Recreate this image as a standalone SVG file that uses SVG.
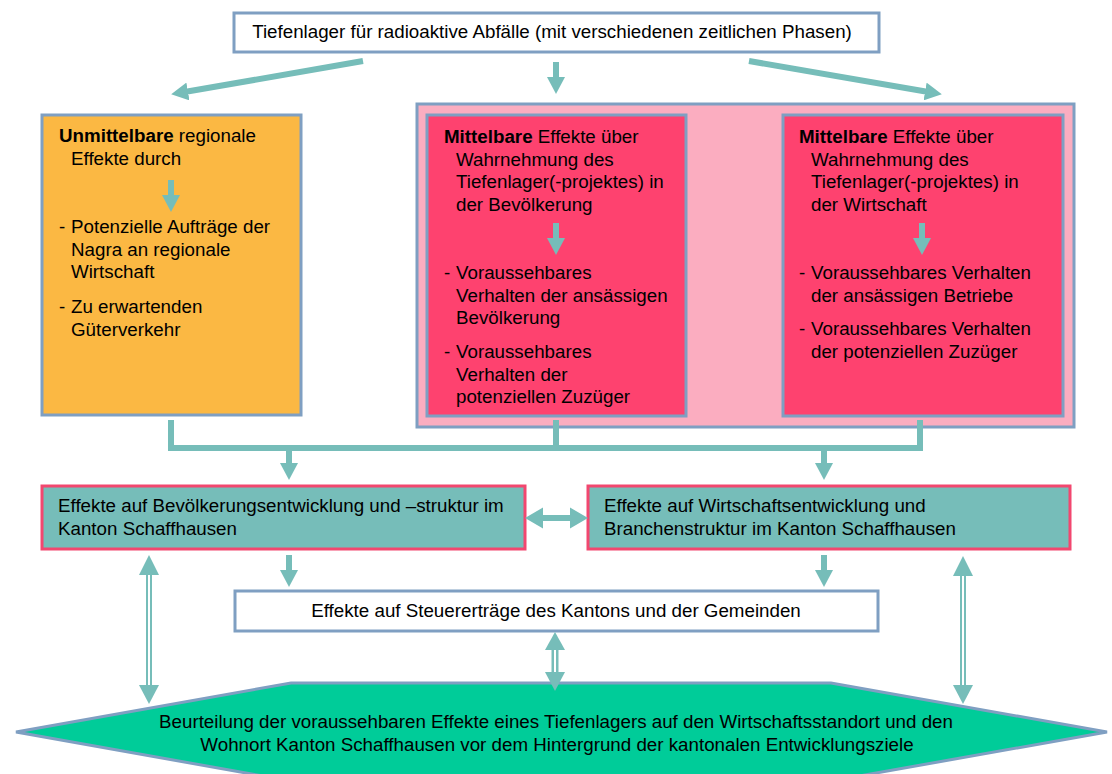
<svg xmlns="http://www.w3.org/2000/svg" width="1112" height="774" viewBox="0 0 1112 774">
<defs>
<style>
text{font-family:"Liberation Sans",Arial,sans-serif;font-size:18.75px;fill:#000}
.b{font-weight:bold}
.box{stroke:#7f9fc2;stroke-width:3}
.tbox{fill:#76bdb9;stroke:#f2476f;stroke-width:3}
.red{fill:#fe426f}
.con{stroke:#76bdb9;stroke-width:6;fill:none}
.head{fill:#76bdb9}
</style>
<marker id="ah" markerUnits="userSpaceOnUse" markerWidth="17" markerHeight="18" refX="5" refY="9" orient="auto">
<path d="M0,0 L17,9 L0,18 z" fill="#76bdb9"/>
</marker>
</defs>
<rect width="1112" height="774" fill="#fff"/>

<g id="top">
<rect class="box" x="234" y="13" width="645" height="39" fill="#fff"/>
<text x="552" y="38" text-anchor="middle">Tiefenlager für radioaktive Abfälle (mit verschiedenen zeitlichen Phasen)</text>
</g>

<g id="unmittelbar">
<rect class="box" x="42" y="115" width="259" height="300" fill="#fbb843"/>
<text x="59" y="142"><tspan class="b">Unmittelbare</tspan> regionale</text>
<text x="71" y="164.5">Effekte durch</text>
<line class="con" x1="171" y1="180" x2="171" y2="200" marker-end="url(#ah)"/>
<text x="59" y="233">-</text>
<text x="71" y="233">Potenzielle Aufträge der</text>
<text x="71" y="255.5">Nagra an regionale</text>
<text x="71" y="278">Wirtschaft</text>
<text x="59" y="313">-</text>
<text x="71" y="313">Zu erwartenden</text>
<text x="71" y="335.5">Güterverkehr</text>
</g>

<g id="mittelbar-container">
<rect class="box" x="417" y="104" width="657" height="323" fill="#fbadc0"/>
</g>

<g id="mittelbar-bevoelkerung">
<rect class="box red" x="427" y="115" width="259" height="301"/>
<text x="444" y="143"><tspan class="b">Mittelbare</tspan> Effekte über</text>
<text x="456" y="165.5">Wahrnehmung des</text>
<text x="456" y="188">Tiefenlager(-projektes) in</text>
<text x="456" y="210.5">der Bevölkerung</text>
<line class="con" x1="556" y1="223" x2="556" y2="243" marker-end="url(#ah)"/>
<text x="444" y="279">-</text>
<text x="456" y="279">Voraussehbares</text>
<text x="456" y="301.5">Verhalten der ansässigen</text>
<text x="456" y="324">Bevölkerung</text>
<text x="444" y="358">-</text>
<text x="456" y="358">Voraussehbares</text>
<text x="456" y="380.5">Verhalten der</text>
<text x="456" y="403">potenziellen Zuzüger</text>
</g>

<g id="mittelbar-wirtschaft">
<rect class="box red" x="783" y="115" width="280" height="301"/>
<text x="799" y="143"><tspan class="b">Mittelbare</tspan> Effekte über</text>
<text x="811" y="165.5">Wahrnehmung des</text>
<text x="811" y="188">Tiefenlager(-projektes) in</text>
<text x="811" y="210.5">der Wirtschaft</text>
<line class="con" x1="922" y1="223" x2="922" y2="243" marker-end="url(#ah)"/>
<text x="799" y="279">-</text>
<text x="811" y="279">Voraussehbares Verhalten</text>
<text x="811" y="301.5">der ansässigen Betriebe</text>
<text x="799" y="335">-</text>
<text x="811" y="335">Voraussehbares Verhalten</text>
<text x="811" y="357.5">der potenziellen Zuzüger</text>
</g>

<g id="bevoelkerung">
<rect class="tbox" x="42" y="486" width="483" height="63"/>
<text x="58" y="512">Effekte auf Bevölkerungsentwicklung und –struktur im</text>
<text x="58" y="535">Kanton Schaffhausen</text>
</g>

<g id="wirtschaft">
<rect class="tbox" x="588" y="486" width="482" height="63"/>
<text x="604" y="512">Effekte auf Wirtschaftsentwicklung und</text>
<text x="604" y="535">Branchenstruktur im Kanton Schaffhausen</text>
</g>

<g id="steuer">
<rect class="box" x="235" y="591" width="643" height="40" fill="#fff"/>
<text x="556" y="617" text-anchor="middle">Effekte auf Steuererträge des Kantons und der Gemeinden</text>
</g>

<g id="beurteilung">
<polygon points="16,732 291,683 831,683 1107,732 831,781 291,781" fill="#00cc99" stroke="#7f9fc2" stroke-width="3"/>
<text x="556" y="728" text-anchor="middle">Beurteilung der voraussehbaren Effekte eines Tiefenlagers auf den Wirtschaftsstandort und den</text>
<text x="557" y="751" text-anchor="middle">Wohnort Kanton Schaffhausen vor dem Hintergrund der kantonalen Entwicklungsziele</text>
</g>

<g id="connectors">
<line class="con" x1="363" y1="61" x2="183" y2="92.3" marker-end="url(#ah)"/>
<line class="con" x1="556" y1="62" x2="556" y2="82" marker-end="url(#ah)"/>
<line class="con" x1="749" y1="61" x2="930" y2="92.3" marker-end="url(#ah)"/>
<path class="con" d="M171,420 V448 H920 V420"/>
<line class="con" x1="556" y1="420" x2="556" y2="448"/>
<line class="con" x1="289" y1="448" x2="289" y2="468" marker-end="url(#ah)"/>
<line class="con" x1="824" y1="448" x2="824" y2="468" marker-end="url(#ah)"/>
<line class="con" x1="289" y1="555" x2="289" y2="575" marker-end="url(#ah)"/>
<line class="con" x1="824" y1="555" x2="824" y2="575" marker-end="url(#ah)"/>
<polygon class="head" points="525,518 543,507.5 543,515 570,515 570,507.5 588,518 570,528.5 570,521 543,521 543,528.5"/>
<line x1="149" y1="572" x2="149" y2="688" stroke="#76bdb9" stroke-width="6"/>
<line x1="149" y1="572" x2="149" y2="688" stroke="#fff" stroke-width="2"/>
<polygon class="head" points="149,555 139,575 159,575"/>
<polygon class="head" points="149,704 139,685 159,685"/>
<line x1="963" y1="572" x2="963" y2="688" stroke="#76bdb9" stroke-width="6"/>
<line x1="963" y1="572" x2="963" y2="688" stroke="#fff" stroke-width="2"/>
<polygon class="head" points="963,556 953,576 973,576"/>
<polygon class="head" points="963,704 953,685 973,685"/>
<line x1="555" y1="648" x2="555" y2="674" stroke="#76bdb9" stroke-width="7"/>
<line x1="555" y1="650" x2="555" y2="672" stroke="#fff" stroke-width="2"/>
<polygon class="head" points="555,632 545,650 565,650"/>
<polygon class="head" points="555,691 545,672 565,672"/>
</g>
</svg>
